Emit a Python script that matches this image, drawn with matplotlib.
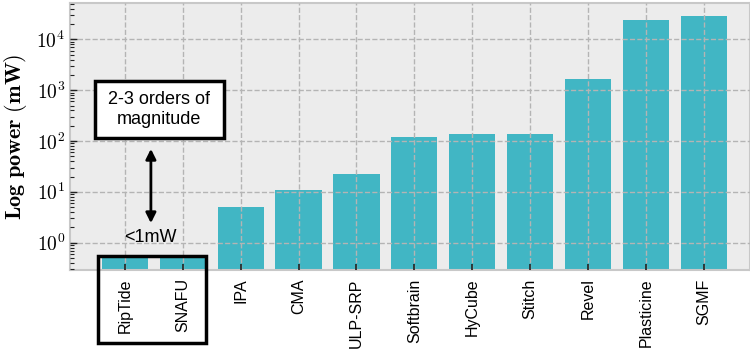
import math
import matplotlib.pyplot as plt
from matplotlib.patches import Rectangle
from matplotlib.ticker import FuncFormatter, LogLocator, NullFormatter

plt.rcParams['font.family'] = ['Liberation Sans', 'DejaVu Sans']
plt.rcParams['mathtext.fontset'] = 'cm'

archs = ['RipTide', 'SNAFU', 'IPA', 'CMA', 'ULP-SRP', 'Softbrain', 'HyCube',
         'Stitch', 'Revel', 'Plasticine', 'SGMF']
power_mw = [0.5, 0.5, 5, 11, 22, 120, 140, 140, 1650, 24500, 29500]

fig = plt.figure(figsize=(7.5, 3.49), dpi=100)
ax = fig.add_axes([0.0933, 0.2264, 0.9067, 0.765])
ax.set_facecolor('#ececec')

x = range(len(archs))
ax.bar(x, power_mw, width=0.8, color='#41b6c4', zorder=2)

ax.set_yscale('log')
ax.set_ylim(0.29, 5.2e4)
ax.set_xlim(-0.95, 10.8)

ax.yaxis.set_major_locator(LogLocator(base=10, numticks=10))
ax.yaxis.set_minor_locator(LogLocator(base=10, subs=range(2, 10), numticks=20))
ax.yaxis.set_minor_formatter(NullFormatter())
ax.yaxis.set_major_formatter(FuncFormatter(lambda v, p: r'$10^{%d}$' % round(math.log10(v))))
ax.tick_params(axis='y', which='major', direction='in', length=5, width=1, labelsize=14, color='#222222')
ax.tick_params(axis='y', which='minor', direction='in', length=3, width=0.8, color='#222222')
ax.set_xticks(list(x))
ax.set_xticklabels(archs, rotation=90, fontsize=11.5)
ax.tick_params(axis='x', direction='in', length=4, width=1.2, color='#222222', pad=6)

ax.grid(True, which='major', color='#b4b4b4', linestyle='--', linewidth=1, zorder=3)
ax.set_axisbelow(False)
for side in ax.spines.values():
    side.set_color('#c8c8c8')
    side.set_linewidth(1.5)

ax.set_ylabel(r'$\mathbf{Log\ power\ (mW)}$', fontsize=16, labelpad=5)

# callout box about the gap
ax.add_patch(Rectangle((0.0368, 0.494), 0.19, 0.214, transform=ax.transAxes,
                       facecolor='white', edgecolor='black', linewidth=2.5, zorder=5))
ax.text(0.1316, 0.601, '2-3 orders of\nmagnitude', transform=ax.transAxes,
        ha='center', va='center', fontsize=13, linespacing=1.2, zorder=6)
ax.annotate('', xy=(0.119, 0.165), xytext=(0.119, 0.464), xycoords='axes fraction',
            arrowprops=dict(arrowstyle='<|-|>', color='black', lw=2, mutation_scale=15),
            zorder=6)
ax.text(0.1176, 0.12, '<1mW', transform=ax.transAxes, ha='center', va='center',
        fontsize=13, zorder=6)

# box around the two sub-mW designs
ax.add_patch(Rectangle((0.041, -0.273), 0.159, 0.325, transform=ax.transAxes,
                       facecolor='none', edgecolor='black', linewidth=2.5,
                       clip_on=False, zorder=6))

fig.savefig('out.png', dpi=100)
